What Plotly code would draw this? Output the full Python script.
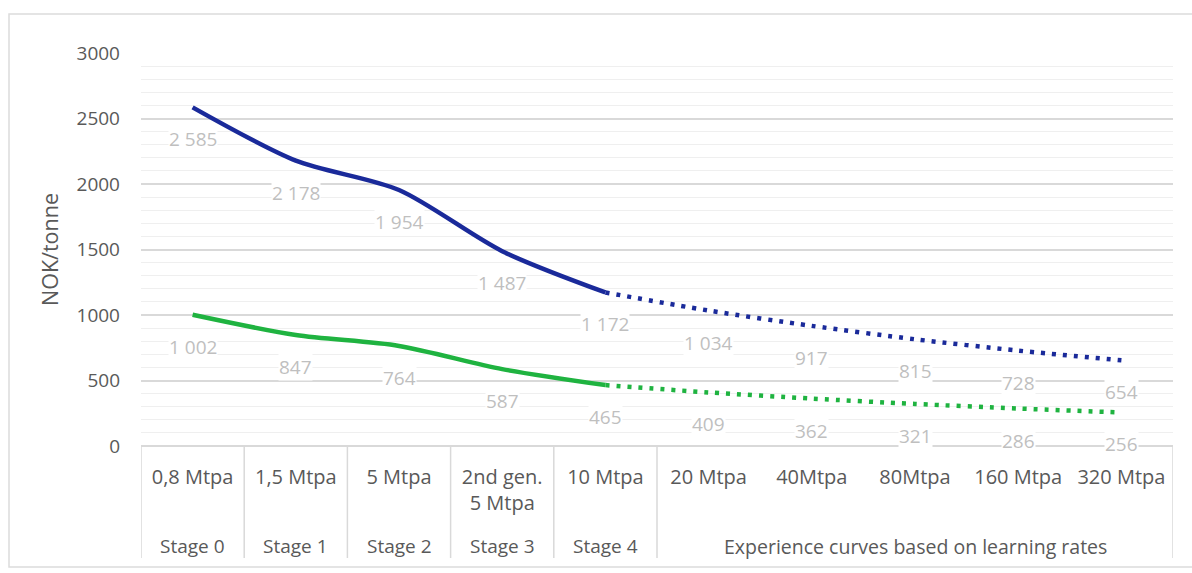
import plotly.graph_objects as go

# Capacity steps and cost levels (NOK/tonne)
capacities = ["0,8 Mtpa", "1,5 Mtpa", "5 Mtpa", "2nd gen.<br>5 Mtpa", "10 Mtpa",
              "20 Mtpa", "40Mtpa", "80Mtpa", "160 Mtpa", "320 Mtpa"]
stages = ["Stage 0", "Stage 1", "Stage 2", "Stage 3", "Stage 4"]
experience_label = "Experience curves based on learning rates"
cost_high = [2585, 2178, 1954, 1487, 1172, 1034, 917, 815, 728, 654]
cost_low = [1002, 847, 764, 587, 465, 409, 362, 321, 286, 256]
n_stage_points = 5  # solid part of each curve; the rest is projected

W, H = 1192, 573
L, R, T, B = 141, 19, 53, 127
PW, PH = W - L - R, H - T - B

FONT = "Open Sans"
TXT = "#595959"
LBL = "#bfbfbf"
BLUE = "#1a2a9a"
GREEN = "#1fb340"
GRID = "#d9d9d9"


def px_x(p):
    return (p - L) / PW


def px_y(p):
    return (H - B - p) / PH


def fmt(v):
    return f"{v:,}".replace(",", " ")


idx = list(range(len(capacities)))
fig = go.Figure()

for vals, col in [(cost_high, BLUE), (cost_low, GREEN)]:
    k = n_stage_points
    fig.add_trace(go.Scatter(
        x=idx[:k], y=vals[:k], mode="lines",
        line=dict(color=col, width=4.5, shape="spline", smoothing=0.8),
        hoverinfo="skip", showlegend=False))
    fig.add_trace(go.Scatter(
        x=idx[k - 1:], y=vals[k - 1:], mode="lines",
        line=dict(color=col, width=4.5, shape="spline", smoothing=0.8, dash="4px,7px"),
        hoverinfo="skip", showlegend=False))

annotations = []
for vals in (cost_high, cost_low):
    for i, v in enumerate(vals):
        annotations.append(dict(
            x=i, y=v, xref="x", yref="y", text=fmt(v), showarrow=False,
            yshift=-32, yanchor="middle", font=dict(family=FONT, size=19, color=LBL),
            bgcolor="white", borderpad=0))

stage_y = px_y(546)
for i, s in enumerate(stages):
    annotations.append(dict(
        x=i, y=stage_y, xref="x", yref="paper", text=s, showarrow=False,
        yanchor="middle", font=dict(family=FONT, size=19, color=TXT)))
annotations.append(dict(
    x=7, y=stage_y, xref="x", yref="paper", text=experience_label, showarrow=False,
    yanchor="middle", font=dict(family=FONT, size=19.5, color=TXT)))

shapes = []
table_bottom = px_y(558)
for xv in [-0.5, 0.5, 1.5, 2.5, 3.5, 4.5, 9.5]:
    shapes.append(dict(type="line", xref="x", yref="paper", x0=xv, x1=xv,
                       y0=0, y1=table_bottom, line=dict(color=GRID, width=1.5)))
# chart frame
fx0, fx1 = px_x(9), px_x(1198)
fy0, fy1 = px_y(567), px_y(14)
shapes.append(dict(type="rect", xref="paper", yref="paper", x0=fx0, x1=fx1, y0=fy0, y1=fy1,
                   line=dict(color="#dcdcdc", width=1.5), layer="below"))

fig.update_layout(
    width=W, height=H,
    margin=dict(l=L, r=R, t=T, b=B),
    paper_bgcolor="white", plot_bgcolor="white",
    annotations=annotations, shapes=shapes,
    xaxis=dict(
        range=[-0.5, 9.5], tickmode="array", tickvals=idx, ticktext=capacities,
        showgrid=False, zeroline=False, showline=False, ticks="",
        tickfont=dict(family=FONT, size=20, color=TXT), ticklabelstandoff=17,
    ),
    yaxis=dict(
        range=[0, 3000], dtick=500, tick0=0,
        showgrid=True, gridcolor=GRID, gridwidth=1.5,
        minor=dict(dtick=100, showgrid=True, gridcolor="#efefef", gridwidth=1),
        zeroline=True, zerolinecolor=GRID, zerolinewidth=1.5,
        showline=False, ticks="",
        tickfont=dict(family=FONT, size=19, color=TXT), ticklabelstandoff=20,
        title=dict(text="NOK/tonne", font=dict(family=FONT, size=21.5, color=TXT), standoff=12),
    ),
)

fig.write_html("out.html")
